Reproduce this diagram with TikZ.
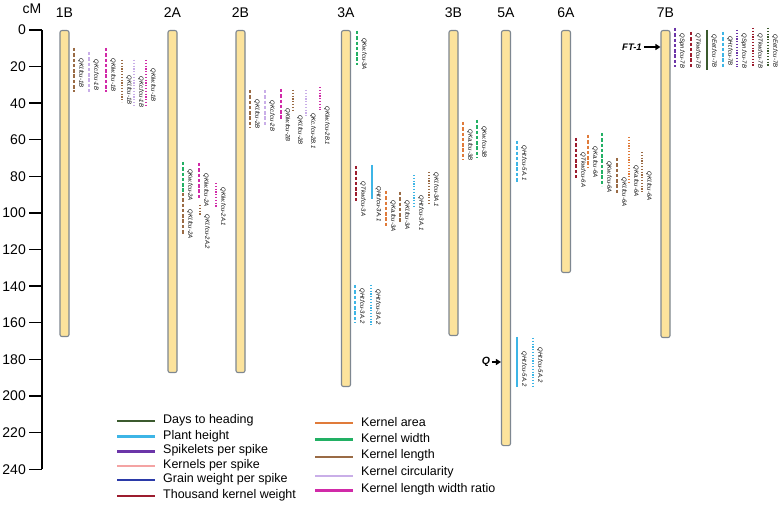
\documentclass[tikz,border=0pt]{standalone}
\usepackage{fontspec}
\setmainfont{Liberation Sans}
\usetikzlibrary{arrows.meta}
\definecolor{cDH}{HTML}{3B5A2E}
\definecolor{cPH}{HTML}{3DB5E6}
\definecolor{cSP}{HTML}{6B35A8}
\definecolor{cKP}{HTML}{F4A3A3}
\definecolor{cGW}{HTML}{2B3AA8}
\definecolor{cTK}{HTML}{9C1C2E}
\definecolor{cKA}{HTML}{E07B3A}
\definecolor{cKW}{HTML}{22B064}
\definecolor{cKL}{HTML}{9A6B45}
\definecolor{cKC}{HTML}{C9AEE8}
\definecolor{cKR}{HTML}{D12AA8}
\definecolor{chrfill}{HTML}{FCE39C}
\definecolor{chredge}{HTML}{7E8790}
\tikzset{
 chrom/.style={draw=chredge, line width=1.1pt, fill=chrfill, rounded corners=2pt, minimum width=9pt, inner sep=0pt, anchor=north},
 dsh/.style={line width=2pt, dash pattern=on 3.5pt off 1.8pt},
 dts/.style={line width=2pt, dash pattern=on 1.2pt off 1.6pt},
 sld/.style={line width=2pt},
 qlab/.style={font=\fontsize{6}{7}\selectfont\itshape, rotate=-90, inner sep=0pt},
 chlab/.style={font=\fontsize{14}{16}\selectfont, inner sep=0pt},
 ticklab/.style={font=\fontsize{14}{16}\selectfont, anchor=east, inner sep=0pt},
 leglab/.style={font=\fontsize{12.5}{14}\selectfont, anchor=west, inner sep=0pt},
 legline/.style={line width=2.4pt},
 marklab/.style={font=\fontsize{9.5}{11}\selectfont\bfseries\itshape, inner sep=0pt},
 markarrow/.style={-{Triangle[length=5pt,width=6pt]}, line width=1.5pt},
}
\newcommand{\qtlbar}[8]{%
  \draw[#2, #3] (#4,#5) -- (#4,#6);
  \node[qlab] (#1) at ({#4+7},#7) {#8};
}
\begin{document}
\begin{tikzpicture}[x=1pt,y=-1pt]
\useasboundingbox[fill=white] (0,0) rectangle (780,505);
% axis
\node[chlab] (cm) at (32,9) {cM};
\draw[line width=1.6pt] (42,30) -- (42,469.2);
\foreach \c in {0,20,...,240} {
  \draw[line width=1.4pt] (29,{30+1.83*\c}) -- (42,{30+1.83*\c});
  \node[ticklab] (t\c) at (26,{30+1.83*\c}) {\c};
}
% chromosomes
\node[chrom, minimum height=306pt] (c1B) at (64.5,30) {};
\node[chrom, minimum height=342pt] (c2A) at (172.5,30) {};
\node[chrom, minimum height=342pt] (c2B) at (240.5,30) {};
\node[chrom, minimum height=356pt] (c3A) at (346,30) {};
\node[chrom, minimum height=305pt] (c3B) at (453.5,30) {};
\node[chrom, minimum height=415pt] (c5A) at (506,30) {};
\node[chrom, minimum height=242pt] (c6A) at (566,30) {};
\node[chrom, minimum height=307pt] (c7B) at (665.5,30) {};
\node[chlab] (l1B) at (64.5,13) {1B};
\node[chlab] (l2A) at (172.5,13) {2A};
\node[chlab] (l2B) at (240.5,13) {2B};
\node[chlab] (l3A) at (346,13) {3A};
\node[chlab] (l3B) at (453.5,13) {3B};
\node[chlab] (l5A) at (506,13) {5A};
\node[chlab] (l6A) at (566,13) {6A};
\node[chlab] (l7B) at (665.5,13) {7B};
% markers
\node[marklab] (ft1) at (632,47) {FT-1};
\draw[markarrow] (ft1.east) ++(2,0) -- (c7B.west |- ft1.east);
\node[marklab, font=\fontsize{10.5}{12}\selectfont\bfseries\itshape] (qg) at (486,362) {Q};
\draw[markarrow] (qg.east) ++(1.5,0) -- (c5A.west |- qg.east);
% 1B
\qtlbar{q1}{dsh}{cKL}{74}{48}{92}{73}{QKl.fcu-1B}
\qtlbar{q2}{dsh}{cKC}{89}{52}{92}{75}{QKc.fcu-1B}
\qtlbar{q3}{dsh}{cKR}{106}{48}{92}{75}{QKlw.fcu-1B}
\qtlbar{q4}{dts}{cKL}{122}{60}{102}{90}{QKl.fcu-1B}
\qtlbar{q5}{dts}{cKC}{134}{60}{107}{92}{QKc.fcu-1B}
\qtlbar{q6}{dts}{cKR}{146}{60}{107}{85}{QKlw.fcu-1B}
% 2A
\qtlbar{q7}{dsh}{cKW}{183}{162}{192}{185}{QKw.fcu-2A}
\qtlbar{q8}{dsh}{cKL}{183}{193}{235}{224}{QKl.fcu-2A}
\qtlbar{q9}{dsh}{cKR}{199}{163}{200}{190}{QKlw.fcu-2A}
\qtlbar{q10}{dts}{cKL}{200}{205}{215}{232}{QKl.fcu-2A.2}
\qtlbar{q11}{dts}{cKR}{216}{183}{207}{207}{QKlw.fcu-2A.1}
% 2B
\qtlbar{q12}{dsh}{cKL}{250}{90}{128}{114}{QKl.fcu-2B}
\qtlbar{q13}{dsh}{cKC}{265}{90}{127}{116}{QKc.fcu-2B}
\qtlbar{q14}{dsh}{cKR}{280.5}{89}{120}{125}{QKlw.fcu-2B}
\qtlbar{q15}{dts}{cKL}{293}{90}{112}{130}{QKl.fcu-2B}
\qtlbar{q16}{dts}{cKC}{306}{90}{117}{131}{QKc.fcu-2B.1}
\qtlbar{q17}{dts}{cKR}{320}{87}{110}{126}{QKlw.fcu-2B.1}
% 3A
\qtlbar{q18}{dsh}{cKW}{357}{31}{65}{54}{QKw.fcu-3A}
\qtlbar{q19}{dsh}{cTK}{356}{166}{202}{199}{QTkw.fcu-3A}
\qtlbar{q20}{sld}{cPH}{371.5}{165}{199}{204}{QHt.fcu-3A.1}
\qtlbar{q21}{dsh}{cKA}{386}{191}{227}{216}{QKa.fcu-3A}
\qtlbar{q22}{dsh}{cKL}{400}{192}{222}{215}{QKl.fcu-3A}
\qtlbar{q23}{dts}{cPH}{414}{175}{208}{213}{QHt.fcu-3A.1}
\qtlbar{q24}{dts}{cKL}{429}{172}{205}{190}{QKl.fcu-3A.1}
\qtlbar{q25}{dsh}{cPH}{355}{285}{323}{306}{QHt.fcu-3A.2}
\qtlbar{q26}{dts}{cPH}{371}{285}{325}{307}{QHt.fcu-3A.2}
% 3B
\qtlbar{q27}{dsh}{cKA}{463}{122}{160}{145}{QKa.fcu-3B}
\qtlbar{q28}{dsh}{cKW}{477}{120}{158}{142}{QKw.fcu-3B}
% 5A
\qtlbar{q29}{dsh}{cPH}{517}{141}{182}{163}{QHt.fcu-5A.1}
\qtlbar{q30}{sld}{cPH}{517}{337}{387}{369}{QHt.fcu-5A.2}
\qtlbar{q31}{dts}{cPH}{533}{338}{388}{365}{QHt.fcu-5A.2}
% 6A
\qtlbar{q32}{dsh}{cTK}{576}{138}{178}{170}{QTkw.fcu-6A}
\qtlbar{q33}{dsh}{cKA}{588}{135}{168}{162}{QKa.fcu-6A}
\qtlbar{q34}{dsh}{cKW}{602}{133}{186}{177}{QKw.fcu-6A}
\qtlbar{q35}{dsh}{cKL}{617}{158}{195}{192}{QKl.fcu-6A}
\qtlbar{q36}{dts}{cKA}{629}{137}{182}{181}{QKa.fcu-6A}
\qtlbar{q37}{dts}{cKL}{642}{152}{192}{186}{QKl.fcu-6A}
% 7B
\qtlbar{q38}{dsh}{cSP}{675}{28}{67}{51}{QSpn.fcu-7B}
\qtlbar{q39}{dsh}{cTK}{691}{32}{68}{51}{QTkw.fcu-7B}
\qtlbar{q40}{sld}{cDH}{707}{30}{70}{51}{QEet.fcu-7B}
\qtlbar{q41}{dsh}{cPH}{723}{32}{67}{51}{QHt.fcu-7B}
\qtlbar{q42}{dts}{cSP}{737}{30}{67}{51}{QSpn.fcu-7B}
\qtlbar{q43}{dts}{cTK}{753}{28}{67}{51}{QTkw.fcu-7B}
\qtlbar{q44}{dts}{cDH}{768}{28}{67}{51}{QEet.fcu-7B}
% legend left
\draw[legline, cDH] (117,421) -- (155,421);
\node[leglab] (g1) at (163,420) {Days to heading};
\draw[legline, cPH] (117,436.5) -- (155,436.5);
\node[leglab] (g2) at (163,436) {Plant height};
\draw[legline, cSP] (117,451.5) -- (155,451.5);
\node[leglab] (g3) at (163,450.5) {Spikelets per spike};
\draw[legline, cKP] (117,466) -- (155,466);
\node[leglab] (g4) at (163,465) {Kernels per spike};
\draw[legline, cGW] (117,480) -- (155,480);
\node[leglab] (g5) at (163,479.5) {Grain weight per spike};
\draw[legline, cTK] (117,496) -- (155,496);
\node[leglab] (g6) at (163,495.5) {Thousand kernel weight};
% legend right
\draw[legline, cKA] (315,423) -- (353,423);
\node[leglab] (g7) at (361,422) {Kernel area};
\draw[legline, cKW] (315,439.5) -- (353,439.5);
\node[leglab] (g8) at (361,438.5) {Kernel width};
\draw[legline, cKL] (315,457) -- (353,457);
\node[leglab] (g9) at (361,455) {Kernel length};
\draw[legline, cKC] (315,476) -- (353,476);
\node[leglab] (g10) at (361,472.5) {Kernel circularity};
\draw[legline, cKR] (315,490.5) -- (353,490.5);
\node[leglab] (g11) at (361,489) {Kernel length width ratio};
\end{tikzpicture}
\end{document}
